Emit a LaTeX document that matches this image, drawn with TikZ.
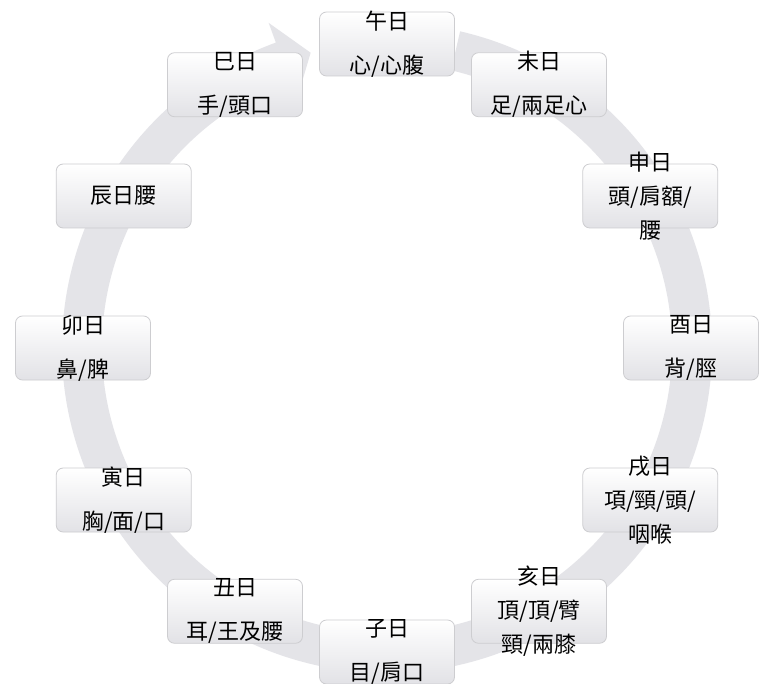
\documentclass[tikz,border=0pt]{standalone}
\usepackage{fontspec}
\newfontfamily\cjk{Noto Sans CJK TC}
\usetikzlibrary{calc}
\definecolor{ringgray}{RGB}{228,228,232}
\definecolor{boxedge}{RGB}{205,205,208}
\definecolor{boxbot}{RGB}{226,226,230}
\begin{document}
\begin{tikzpicture}[x=1pt,y=1pt,
  daybox/.style={draw=boxedge, line width=0.8pt, rounded corners=7pt,
    top color=white, bottom color=boxbot,
    minimum width=135pt, minimum height=64pt, inner sep=0pt},
  daytext/.style={font=\cjk\fontsize{22}{44}\selectfont, align=center, text=black, inner sep=0pt},
  tritext/.style={daytext, font=\cjk\fontsize{22}{34}\selectfont}]
\useasboundingbox (0,0) rectangle (759,-684);
\fill[white] (0,0) rectangle (759,-684);
\coordinate (c) at (387,-348);
% ring arrow
\fill[ringgray]
  ($(c)+(77:325)$) arc[start angle=77, end angle=-250, radius=325]
  -- ($(c)+(-250:346)$) coordinate (ahA)
  -- ($(c)+(-255.5:305)$) coordinate (tip)
  -- ($(c)+(-250:264)$) coordinate (ahB)
  -- ($(c)+(-250:285)$) arc[start angle=-250, end angle=77, radius=285] -- cycle;
% boxes
\foreach \n/\a in {wu/90,wei/60,shen/30,you/0,xu/-30,hai/-60,zi/-90,chou/-120,yin/-150,mao/180,chen/150,si/120}{
  \node[daybox] (\n) at ($(c)+(\a:304)$) {};
}
\node[daytext] (twu) at (wu) {午日\\心/心腹};
\node[daytext] (twei) at (wei) {未日\\足/兩足心};
\node[tritext] (tshen) at (shen) {申日\\頭/肩額/\\腰};
\node[daytext] (tyou) at (you) {酉日\\背/脛};
\node[tritext] (txu) at (xu) {戌日\\項/頸/頭/\\咽喉};
\node[tritext] (thai) at (hai) {亥日\\頂/頂/臂\\頸/兩膝};
\node[daytext] (tzi) at (zi) {子日\\目/肩口};
\node[daytext] (tchou) at (chou) {丑日\\耳/王及腰};
\node[daytext] (tyin) at (yin) {寅日\\胸/面/口};
\node[daytext] (tmao) at (mao) {卯日\\鼻/脾};
\node[daytext] (tchen) at (chen) {辰日腰};
\node[daytext] (tsi) at (si) {巳日\\手/頭口};
\end{tikzpicture}
\end{document}
